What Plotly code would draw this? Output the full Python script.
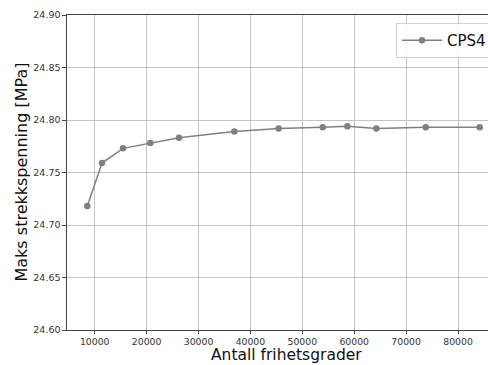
import plotly.graph_objects as go

# Mesh convergence study: degrees of freedom vs. max tensile stress (CPS4 elements)
dof = [8574, 11407, 15453, 20713, 26243, 36898, 45452, 53930, 58680, 64260, 73780, 84180]
stress_mpa = [24.718, 24.759, 24.773, 24.778, 24.783, 24.789, 24.792, 24.793, 24.794, 24.792, 24.793, 24.793]
series_name = "CPS4"

x_ticks = [10000, 20000, 30000, 40000, 50000, 60000, 70000, 80000]
y_ticks = [24.60, 24.65, 24.70, 24.75, 24.80, 24.85, 24.90]

W, H = 488, 365
ML, MR, MT, MB = 67, 0, 15, 35
PW, PH = W - ML - MR, H - MT - MB
font_family = "DejaVu Sans"
spine = "#444444"
grid = "#c4c4c4"

fig = go.Figure()
fig.add_trace(go.Scatter(
    x=dof, y=stress_mpa, name=series_name, mode="lines+markers",
    line=dict(color="#808080", width=1.5),
    marker=dict(color="#808080", size=6.5),
))

fig.update_layout(
    width=W, height=H,
    margin=dict(l=ML, r=MR, t=MT, b=MB, autoexpand=False),
    paper_bgcolor="white", plot_bgcolor="white",
    font=dict(family=font_family, color="#333333"),
    showlegend=True,
    legend=dict(
        x=(396 - ML) / PW, y=(H - MB - 23) / PH,
        xanchor="left", yanchor="top",
        bgcolor="rgba(255,255,255,0.85)", bordercolor="#d0d0d0", borderwidth=1,
        font=dict(size=15, color="#111111", family=font_family),
        itemwidth=40,
    ),
    xaxis=dict(
        range=[4660, 85780], tickvals=x_ticks, ticktext=[str(v) for v in x_ticks],
        showgrid=True, gridcolor=grid, gridwidth=1, zeroline=False,
        showline=True, linecolor=spine, linewidth=1.2, mirror=True,
        ticks="outside", ticklen=2.5, tickcolor=spine, tickwidth=1,
        tickfont=dict(size=9.3, color="#333333"),
    ),
    yaxis=dict(
        range=[24.60, 24.90], tickvals=y_ticks, ticktext=[f"{v:.2f}" for v in y_ticks],
        showgrid=True, gridcolor=grid, gridwidth=1, zeroline=False,
        showline=True, linecolor=spine, linewidth=1.2,
        ticks="outside", ticklen=3.5, tickcolor=spine, tickwidth=1,
        tickfont=dict(size=9.5, color="#333333"),
    ),
    annotations=[
        dict(text="Antall frihetsgrader", xref="paper", yref="paper",
             x=(286.5 - ML) / PW, y=-MB / PH,
             xanchor="center", yanchor="bottom", showarrow=False, borderpad=0,
             font=dict(size=15.5, color="#111111", family=font_family)),
        dict(text="Maks strekkspenning [MPa]", xref="paper", yref="paper",
             x=-(ML - 21) / PW, y=0.5, textangle=-90,
             xanchor="center", yanchor="middle", showarrow=False,
             font=dict(size=16, color="#111111", family=font_family)),
    ],
)

fig.write_html("out.html")
